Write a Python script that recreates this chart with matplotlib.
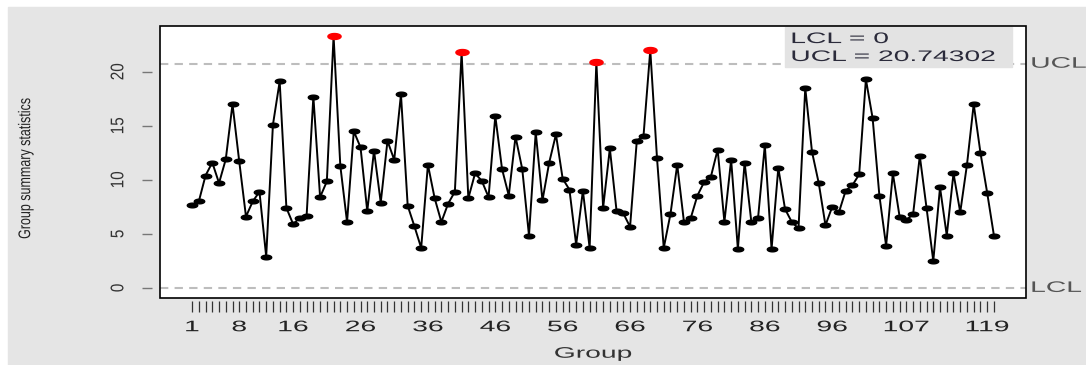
import numpy as np
import matplotlib.pyplot as plt
from matplotlib.path import Path
from matplotlib.patches import Rectangle
from matplotlib.patheffects import AbstractPathEffect
from matplotlib.transforms import Affine2D
import matplotlib.transforms as mtransforms

plt.rcParams['font.family'] = ['Liberation Sans', 'DejaVu Sans']

# group summary statistics
groups = np.arange(1, 121)
stats = [7.7, 8.0, 10.4, 11.6, 9.7, 11.9, 17.0, 11.7, 6.6, 8.0,
         8.9, 2.9, 15.1, 19.1, 7.4, 5.9, 6.5, 6.7, 17.7, 8.4,
         9.85, 23.3, 11.3, 6.1, 14.5, 13.0, 7.1, 12.7, 7.9, 13.6,
         11.85, 17.9, 7.6, 5.7, 3.7, 11.4, 8.3, 6.1, 7.8, 8.9,
         21.8, 8.3, 10.6, 9.9, 8.4, 15.9, 11.0, 8.55, 14.0, 11.0,
         4.85, 14.4, 8.1, 11.6, 14.2, 10.1, 9.1, 4.0, 9.0, 3.7,
         20.9, 7.4, 12.9, 7.1, 6.9, 5.65, 13.6, 14.1, 22.0, 12.0,
         3.7, 6.85, 11.4, 6.1, 6.45, 8.55, 9.8, 10.3, 12.8, 6.1,
         11.85, 3.6, 11.6, 6.1, 6.5, 13.2, 3.6, 11.1, 7.3, 6.1,
         5.5, 18.5, 12.6, 9.7, 5.8, 7.5, 7.0, 9.0, 9.5, 10.5,
         19.3, 15.7, 8.55, 3.9, 10.6, 6.6, 6.3, 6.8, 12.2, 7.4,
         2.5, 9.3, 4.85, 10.6, 7.0, 11.4, 17.0, 12.5, 8.8, 4.85]
lcl = 0
ucl = 20.74302
label_groups = [1, 8, 16, 26, 36, 46, 56, 66, 76, 86, 96, 107, 119]
yticks = [0, 5, 10, 15, 20]


class HStretch(AbstractPathEffect):
    """Draw text glyphs widened horizontally (the reference is a stretched screenshot)."""

    def __init__(self, sx, anchor='center'):
        super().__init__()
        self.sx = sx
        self.anchor = anchor

    def draw_path(self, renderer, gc, tpath, affine, rgbFace=None):
        ext = tpath.get_extents(affine)
        if self.anchor == 'left':
            x0 = ext.x0
        elif self.anchor == 'right':
            x0 = ext.x1
        else:
            x0 = 0.5 * (ext.x0 + ext.x1)
        st = Affine2D().translate(-x0, 0).scale(self.sx, 1).translate(x0, 0)
        renderer.draw_path(gc, tpath, affine + st, rgbFace)


# flat ellipse marker, like the stretched R points
t = np.linspace(0, 2 * np.pi, 40)
dot = Path(np.column_stack([np.cos(t), 0.45 * np.sin(t)]), closed=True)

fig = plt.figure(figsize=(10.86, 3.65), dpi=100)
fig.patch.set_facecolor('white')
fig.patches.append(Rectangle((8 / 1086, 0), 1, 1 - 7 / 365, transform=fig.transFigure,
                             color='#e5e5e5', zorder=-10))

ax = fig.add_axes([160 / 1086, 1 - 298 / 365, 866 / 1086, 272 / 365])
ax.set_facecolor('white')

ax.plot(groups, stats, color='black', lw=1.4, zorder=3)
s = np.array(stats)
out = (s > ucl) | (s < lcl)
ax.plot(groups[~out], s[~out], ls='none', marker=dot, ms=7.5, color='black', zorder=4)
ax.plot(groups[out], s[out], ls='none', marker=dot, ms=9.5, color='red', zorder=4)

ax.axhline(lcl, color='#bdbdbd', lw=1.5, ls=(0, (4, 3)), zorder=2)
ax.axhline(ucl, color='#bdbdbd', lw=1.5, ls=(0, (4, 3)), zorder=2)

# R-style 4% padding
lo, hi = min(s.min(), lcl), max(s.max(), ucl)
ax.set_ylim(lo - 0.04 * (hi - lo), hi + 0.04 * (hi - lo))
ax.set_xlim(1 - 0.04 * (len(groups) - 1), len(groups) + 0.04 * (len(groups) - 1))

wide = 1.85
trans = mtransforms.blended_transform_factory(ax.transAxes, ax.transData)
for val, name in [(ucl, 'UCL'), (lcl, 'LCL')]:
    ax.text(1.006, val, name, transform=trans, va='center', ha='left', color='#555555',
            fontsize=11, clip_on=False, path_effects=[HStretch(wide, 'left')])

# limits box in the top right corner
ax.add_patch(Rectangle((0.722, 0.849), 0.262, 0.147, transform=ax.transAxes,
                       color='#e3e3e3', zorder=6))
ax.text(0.729, 0.952, 'LCL = 0', transform=ax.transAxes, va='center', ha='left',
        fontsize=11, color='#2b2b3b', zorder=7, path_effects=[HStretch(wide, 'left')])
ax.text(0.729, 0.886, 'UCL = 20.74302', transform=ax.transAxes, va='center', ha='left',
        fontsize=11, color='#2b2b3b', zorder=7, path_effects=[HStretch(wide, 'left')])

# axes: box drawn separately, ticks slightly detached like base R
for sp in ax.spines.values():
    sp.set_color('none')
ax.spines['left'].set_position(('outward', 6))
ax.spines['bottom'].set_position(('outward', 2))
ax.add_patch(Rectangle((0, 0), 1, 1, transform=ax.transAxes, fill=False, ec='black',
                       lw=1.2, clip_on=False, zorder=8))

ax.set_yticks(yticks)
ax.set_yticklabels([str(v) for v in yticks], rotation=90, va='center', fontsize=11,
                   color='#333333')
ax.tick_params(axis='y', length=7, width=1.0, color='#777777', pad=12)
for lbl in ax.get_yticklabels():
    lbl.set_path_effects([HStretch(1.2)])

ax.set_xticks(groups)
ax.set_xticklabels([str(g) if g in label_groups else '' for g in groups], fontsize=11,
                   color='#222222')
ax.tick_params(axis='x', length=8, width=0.9, color='#333333', pad=6)
for lbl in ax.get_xticklabels():
    lbl.set_path_effects([HStretch(wide)])

ax.set_xlabel('Group', fontsize=11, color='#333333', labelpad=9,
              path_effects=[HStretch(wide)])
fig.text(26 / 1086, 1 - 168 / 365, 'Group summary statistics', rotation=90,
         va='center', ha='center', fontsize=9, color='#222222',
         path_effects=[HStretch(1.35)])

fig.savefig('out.png', dpi=100, facecolor=fig.get_facecolor())
